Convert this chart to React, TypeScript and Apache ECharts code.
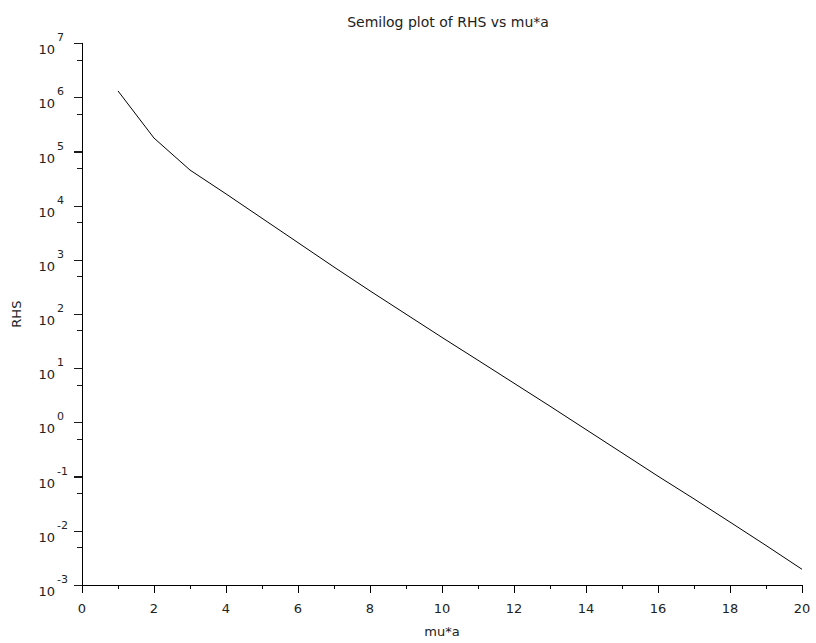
import React, { useEffect, useRef } from "react";
import * as echarts from "echarts";

const xValues = [1, 2, 3, 4, 5, 6, 7, 8, 9, 10, 11, 12, 13, 14, 15, 16, 17, 18, 19, 20];
const rhsValues = [
  1.32e6, 1.78e5, 4.57e4, 1.66e4, 5.89e3, 2.09e3, 741, 269, 100, 37.2,
  14.1, 5.31, 2.0, 0.741, 0.275, 0.102, 0.0389, 0.0145, 0.00537, 0.00195,
];
const yMajorTickValues = [1e-3, 1e-2, 1e-1, 1, 10, 100, 1e3, 1e4, 1e5, 1e6, 1e7];
const yMinorTickValues = [5e-3, 5e-2, 5e-1, 5, 50, 500, 5e3, 5e4, 5e5, 5e6];
const titleText = "Semilog plot of RHS vs mu*a";
const xName = "mu*a";
const yName = "RHS";
const yBaseLabel = "10";

const FONT = "DejaVu Sans";
const TICK = "#1a1a1a";

export default function App() {
  const ref = useRef<HTMLDivElement>(null);
  useEffect(() => {
    if (!ref.current) return;
    const chart = echarts.init(ref.current, null, { renderer: "svg" });
    const logAxisBase = {
      type: "log",
      logBase: 10,
      min: 1e-3,
      max: 1e7,
      interval: 1,
      position: "left",
      offset: 0,
      splitLine: { show: false },
    };
    chart.setOption({
      animation: false,
      backgroundColor: "#ffffff",
      title: {
        text: titleText,
        left: 443,
        top: 10,
        textAlign: "center",
        textStyle: { fontFamily: FONT, fontSize: 14, fontWeight: "normal", color: "#222" },
      },
      grid: { left: 82, right: 14, top: 43.3, bottom: 56.3, containLabel: false },
      xAxis: {
        type: "value",
        min: 0,
        max: 20,
        interval: 2,
        name: xName,
        nameLocation: "middle",
        nameGap: 40,
        nameTextStyle: { fontFamily: FONT, fontSize: 13, color: "#222" },
        axisLine: { show: true, onZero: false, lineStyle: { color: "#000", width: 1 } },
        axisTick: { show: true, length: 8, lineStyle: { color: "#000" } },
        minorTick: { show: true, splitNumber: 2, length: 4, lineStyle: { color: "#000" } },
        splitLine: { show: false },
        axisLabel: { fontFamily: FONT, fontSize: 13, color: "#222", margin: 17 },
      },
      yAxis: [
        {
          ...logAxisBase,
          name: yName,
          nameLocation: "middle",
          nameGap: 59,
          nameRotate: 90,
          nameTextStyle: { fontFamily: FONT, fontSize: 13, color: "#222" },
          axisLine: { show: true, onZero: false, lineStyle: { color: "#000", width: 1 } },
          axisTick: { show: true, length: 8, lineStyle: { color: TICK, width: 1 } },
          axisLabel: {
            margin: 27,
            formatter: () => yBaseLabel,
            fontFamily: FONT,
            fontSize: 13,
            color: "#222",
            align: "right",
            verticalAlign: "top",
          },
        },
        {
          ...logAxisBase,
          axisLine: { show: false },
          axisTick: { show: false },
          axisLabel: {
            margin: 25,
            formatter: (v: number) => String(Math.round(Math.log10(v))),
            fontFamily: FONT,
            fontSize: 11,
            color: "#222",
            align: "left",
            verticalAlign: "bottom",
          },
        },
      ],
      series: [
        {
          type: "line",
          yAxisIndex: 0,
          data: xValues.map((x, i) => [x, rhsValues[i]]),
          showSymbol: false,
          symbol: "none",
          lineStyle: { color: "#000", width: 1 },
        },
      ],
    });

    const x0 = chart.convertToPixel({ xAxisIndex: 0 }, 0) as number;
    const tick = (v: number, len: number) => {
      const y = Math.round(chart.convertToPixel({ yAxisIndex: 0 }, v) as number) + 0.5;
      return {
        type: "line",
        z: 100,
        shape: { x1: x0 - len, y1: y, x2: x0, y2: y },
        style: { stroke: TICK, lineWidth: 1 },
      };
    };
    chart.setOption({
      graphic: [
        ...yMajorTickValues.map((v) => tick(v, 8)),
        ...yMinorTickValues.map((v) => tick(v, 5)),
      ],
    });

    return () => chart.dispose();
  }, []);
  return (
    <div
      ref={ref}
      style={{ position: "fixed", left: 0, top: 0, width: 816, height: 643, background: "#fff" }}
    />
  );
}
